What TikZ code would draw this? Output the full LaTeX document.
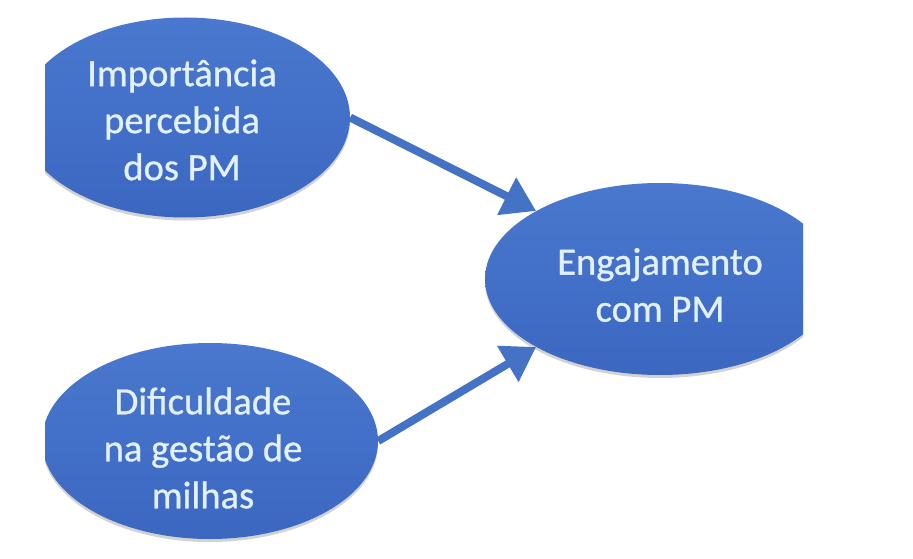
\documentclass[tikz,border=0pt]{standalone}
\usepackage{fontspec}
\setmainfont{Carlito}
\newfontfamily\lblfont[FakeBold=0.8]{Carlito}
\usetikzlibrary{shapes.geometric,arrows.meta,shadows}
\definecolor{ofblue}{HTML}{4472C4}
\definecolor{blobtop}{HTML}{4A78CE}
\definecolor{blobbot}{HTML}{3B67C1}
\definecolor{labeltext}{HTML}{E2F0FF}
\begin{document}
\begin{tikzpicture}[x=1pt,y=-1pt,
  blob/.style={ellipse, draw=none, inner sep=0pt, top color=blobtop, bottom color=blobbot,
    drop shadow={opacity=0.35, shadow xshift=0pt, shadow yshift=-3pt}},
  lbl/.style={text=labeltext, font=\lblfont\fontsize{38.6}{47}\selectfont, align=center, inner sep=0pt},
  arr/.style={draw=ofblue, line width=8pt, -{Triangle[length=33pt,width=40pt]}}]
\useasboundingbox[fill=white] (0,0) rectangle (913,559);
\begin{scope}
  \clip (45,0) rectangle (803,559);
  \node[blob, minimum width=330pt, minimum height=200pt] (a) at (185,117.5) {};
  \node[blob, minimum width=336pt, minimum height=196pt] (b) at (210,441) {};
  \node[blob, minimum width=350pt, minimum height=192pt] (c) at (660,279) {};
\end{scope}
\node[lbl] (ta) at (182,120) {Importância\\percebida\\dos PM};
\node[lbl] (tb) at (203,448) {Dificuldade\\na gestão de\\milhas};
\node[lbl] (tc) at (660,285) {Engajamento\\com PM};
\draw[arr] (a.east) -- (c.north west);
\draw[arr] (b.east) -- (c.south west);
\end{tikzpicture}
\end{document}
